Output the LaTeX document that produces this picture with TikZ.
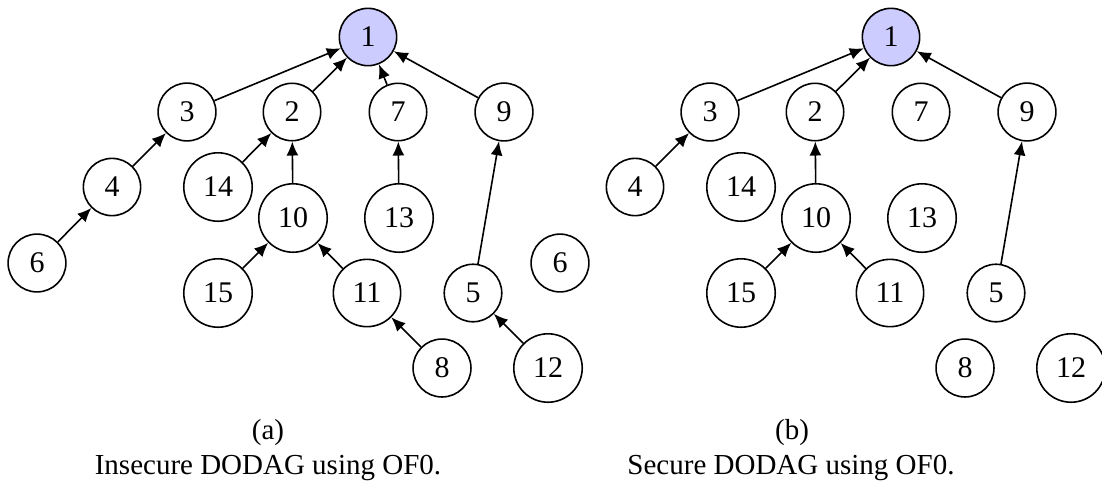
\documentclass[tikz,border=0pt]{standalone}
\usepackage{fontspec}
\setmainfont{Liberation Serif}
\usetikzlibrary{arrows.meta}

\definecolor{rootblue}{RGB}{204,204,255}

\begin{document}
\begin{tikzpicture}[
  x=0.5pt, y=-0.5pt,
  font=\fontsize{15}{17.5}\selectfont,
  vtx/.style={circle, draw, line width=0.8pt, inner sep=5.8pt, fill=white},
  root/.style={vtx, fill=rootblue},
  ar/.style={-{Latex[length=7pt, width=6pt]}, line width=0.8pt},
  sublbl/.style={anchor=base, align=center, font=\fontsize{14.5}{17.5}\selectfont},
]
\useasboundingbox (0,0) rectangle (1102,484);

% ---- (a) insecure DODAG ----------------------------------------------------
\node[root] (a1) at (368,37) {1};
\foreach \n/\x/\y in {3/187/112, 2/292/112, 7/398/112, 9/504/112,
                      4/112/187, 14/218/187, 10/293/218, 13/399/218,
                      6/37/263, 15/218/293, 11/367/293, 5/473/293,
                      8/442/368, 12/548/368}
  \node[vtx] (a\n) at (\x,\y) {\n};
\foreach \s/\t in {3/1, 2/1, 7/1, 9/1, 4/3, 14/2, 10/2, 13/7,
                   6/4, 15/10, 11/10, 5/9, 8/11, 12/5}
  \draw[ar] (a\s) -- (a\t);
\node[sublbl] (capa) at (268,439) {(a)};
\node[sublbl] (txta) at (268,474) {Insecure DODAG using OF0.};

% ---- (b) secure DODAG: same places, fewer parents ---------------------------
\node[root] (b1) at (891,37) {1};
\foreach \n/\x/\y in {3/187/112, 2/292/112, 7/398/112, 9/504/112,
                      4/112/187, 14/218/187, 10/293/218, 13/399/218,
                      6/37/263, 15/218/293, 11/367/293, 5/473/293,
                      8/442/368, 12/548/368}
  \node[vtx] (b\n) at (\x+523,\y) {\n};
\foreach \s/\t in {3/1, 2/1, 9/1, 4/3, 10/2, 15/10, 11/10, 5/9}
  \draw[ar] (b\s) -- (b\t);
\node[sublbl] (capb) at (792,439) {(b)};
\node[sublbl] (txtb) at (791,474) {Secure DODAG using OF0.};

\end{tikzpicture}
\end{document}
